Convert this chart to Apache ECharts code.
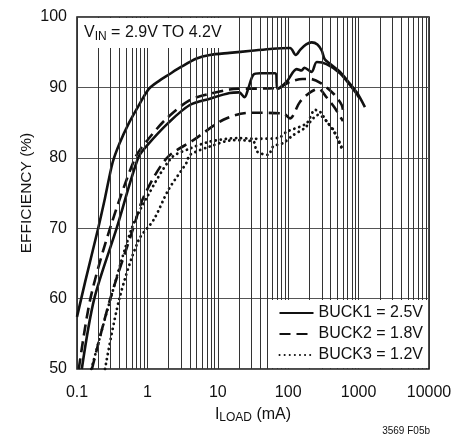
<!DOCTYPE html>
<html>
<head>
<meta charset="utf-8">
<script src="https://cdn.jsdelivr.net/npm/echarts@6/dist/echarts.min.js"></script>
<style>
  html, body { margin: 0; padding: 0; background: #fff; }
  #chart { width: 461px; height: 437px; }
</style>
</head>
<body>
<div id="chart"></div>
<script>
var FONT = "'Liberation Sans', Arial, sans-serif";

// load current (mA) / efficiency (%)
var buck1A = [[0.1, 57.4], [0.13, 62.3], [0.2, 70], [0.25, 74.3], [0.32, 79.3], [0.4, 82], [0.55, 85], [0.75, 87.4], [1.05, 89.8],
  [1.5, 91], [2, 91.8], [3, 92.9], [5, 94.1], [7.7, 94.6], [14.7, 94.9], [30, 95.2], [60, 95.5], [106, 95.6], [128, 94.6],
  [150, 95.4], [180, 96.1], [215, 96.4], [260, 96.1], [300, 95.2], [330, 94.0], [400, 93.3], [545, 92.2], [700, 90.9],
  [940, 89.3], [1230, 87.2]];
var buck1B = [[0.117, 50], [0.176, 60], [0.366, 70], [0.74, 80], [1, 81.8], [2, 85], [4, 87.5], [7.7, 88.4], [14.7, 89.2],
  [20, 89.3], [24, 88.6], [27, 89.8], [32, 91.8], [40, 92], [65, 92], [71, 89.8], [95, 90.8], [132, 92.6], [155, 92.4],
  [170, 92.8], [215, 92.2], [255, 93.6], [350, 93.3], [545, 92], [940, 89.1], [1000, 88.6]];
var buck2A = [[0.106, 50], [0.155, 60], [0.295, 70], [0.67, 80], [1, 82.5], [1.88, 85.6], [4, 88.2], [7.7, 89.1], [14.7, 89.7],
  [20, 89.8], [69, 89.9], [106, 90.8], [160, 91.2], [205, 91.2], [290, 90.6], [440, 89.1], [575, 87.5], [610, 86.3]];
var buck2B = [[0.163, 50], [0.297, 60], [0.63, 70], [0.89, 74.5], [1.9, 80], [4.5, 82.5], [12, 85.4], [28, 86.4], [85, 86.3],
  [106, 85.6], [146, 87.9], [205, 89.3], [270, 89.8], [350, 88.6], [450, 87.2], [600, 85.2]];
var buck3A = [[0.16, 50], [0.3, 60], [0.6, 70], [1, 74.5], [2.2, 80], [4, 81.3], [7.7, 82.3], [20, 82.8], [32, 82.7],
  [72, 82.8], [95, 83.7], [182, 84.9], [240, 86.8], [280, 86.6], [350, 85.2], [450, 83.8], [575, 81.3]];
var buck3B = [[0.25, 50], [0.4, 60], [0.75, 68.3], [1.23, 71.2], [2, 75.5], [3.6, 79.3], [4, 80.4], [7.7, 81.6], [16.6, 82.5],
  [32, 82.3], [36, 80.9], [52, 80.4], [61, 81.6], [85, 82.1], [117, 83.2], [170, 84.2], [270, 86.1], [350, 85.2],
  [490, 83], [575, 81.5]];

var seriesNames = ['BUCK1 = 2.5V', 'BUCK2 = 1.8V', 'BUCK3 = 1.2V'];
var xTicks = [0.1, 1, 10, 100, 1000, 10000];
var yTicks = [50, 60, 70, 80, 90, 100];

// log-paper minor grid (2..9 of every decade)
var minorGrid = [];
for (var d = 0; d < xTicks.length - 1; d++) {
  for (var m = 2; m <= 9; m++) minorGrid.push({ xAxis: xTicks[d] * m });
}

var solid = { color: '#111', width: 2.6, type: 'solid' };
var dashed = { color: '#111', width: 2.6, type: [11, 6] };
var dotted = { color: '#111', width: 2.8, type: [0.1, 5], cap: 'round' };

function mk(name, data, style) {
  return {
    name: name, type: 'line', data: data, symbol: 'none', smooth: 0.3,
    color: '#111', itemStyle: { color: '#111' }, lineStyle: style, z: 3
  };
}

var chart = echarts.init(document.getElementById('chart'));
chart.setOption({
  animation: false,
  textStyle: { fontFamily: FONT },
  grid: { left: 77, right: 32, top: 17, bottom: 68, show: true, borderColor: '#111', borderWidth: 1.5 },
  xAxis: {
    type: 'log', logBase: 10, min: xTicks[0], max: xTicks[xTicks.length - 1],
    axisLine: { show: false }, axisTick: { show: false },
    splitLine: { show: true, lineStyle: { color: '#333', width: 1 } },
    axisLabel: { fontSize: 16, color: '#111', margin: 16, fontFamily: FONT,
      formatter: function (v) { return String(Number(v.toPrecision(6))); } },
    name: '{a|I}{b|LOAD}{a| (mA)}', nameLocation: 'middle', nameGap: 36, nameMoveOverlap: false,
    nameTextStyle: { rich: {
      a: { fontSize: 16, color: '#111', fontFamily: FONT },
      b: { fontSize: 12, color: '#111', fontFamily: FONT, padding: [7, 0, 0, 0] }
    } }
  },
  yAxis: {
    type: 'value', min: yTicks[0], max: yTicks[yTicks.length - 1], interval: 10,
    axisLine: { show: false }, axisTick: { show: false },
    splitLine: { show: true, lineStyle: { color: '#555', width: 1 } },
    axisLabel: { fontSize: 16, color: '#111', margin: 10, fontFamily: FONT },
    name: 'EFFICIENCY (%)', nameLocation: 'middle', nameGap: 42, nameMoveOverlap: false,
    nameTextStyle: { fontSize: 15.5, color: '#111', fontFamily: FONT }
  },
  legend: {
    data: seriesNames, orient: 'vertical', align: 'left', right: 33, bottom: 69, z: 60,
    padding: [6, 5, 5, 10], itemGap: 5, itemWidth: 34, itemHeight: 14,
    itemStyle: { color: 'rgba(0,0,0,0)', borderWidth: 0 },
    textStyle: { fontSize: 16, color: '#111', fontFamily: FONT }
  },
  series: [
    Object.assign(mk(seriesNames[0], buck1A, solid), {
      markLine: { silent: true, symbol: 'none', label: { show: false }, animation: false,
        lineStyle: { color: '#333', width: 1, type: 'solid' }, data: minorGrid }
    }),
    mk(seriesNames[0], buck1B, solid),
    mk(seriesNames[1], buck2A, dashed),
    mk(seriesNames[1], buck2B, dashed),
    mk(seriesNames[2], buck3A, dotted),
    mk(seriesNames[2], buck3B, dotted)
  ],
  graphic: [
    { type: 'rect', left: 78, top: 18, shape: { width: 154, height: 30 }, style: { fill: '#fff' }, z: 50 },
    { type: 'text', left: 84, top: 25, z: 51, style: {
      text: '{a|V}{b|IN}{a| = 2.9V TO 4.2V}', fill: '#111',
      rich: {
        a: { fontSize: 16, fontFamily: FONT, fill: '#111' },
        b: { fontSize: 12, fontFamily: FONT, fill: '#111', padding: [7, 0, 0, 0] }
      } } },
    { type: 'rect', left: 268, top: 300, shape: { width: 160, height: 68 }, style: { fill: '#fff' }, z: 50 },
    { type: 'text', right: 31, top: 426, style: { text: '3569 F05b', fontSize: 10, fontFamily: FONT, fill: '#111' } }
  ]
});
</script>
</body>
</html>
